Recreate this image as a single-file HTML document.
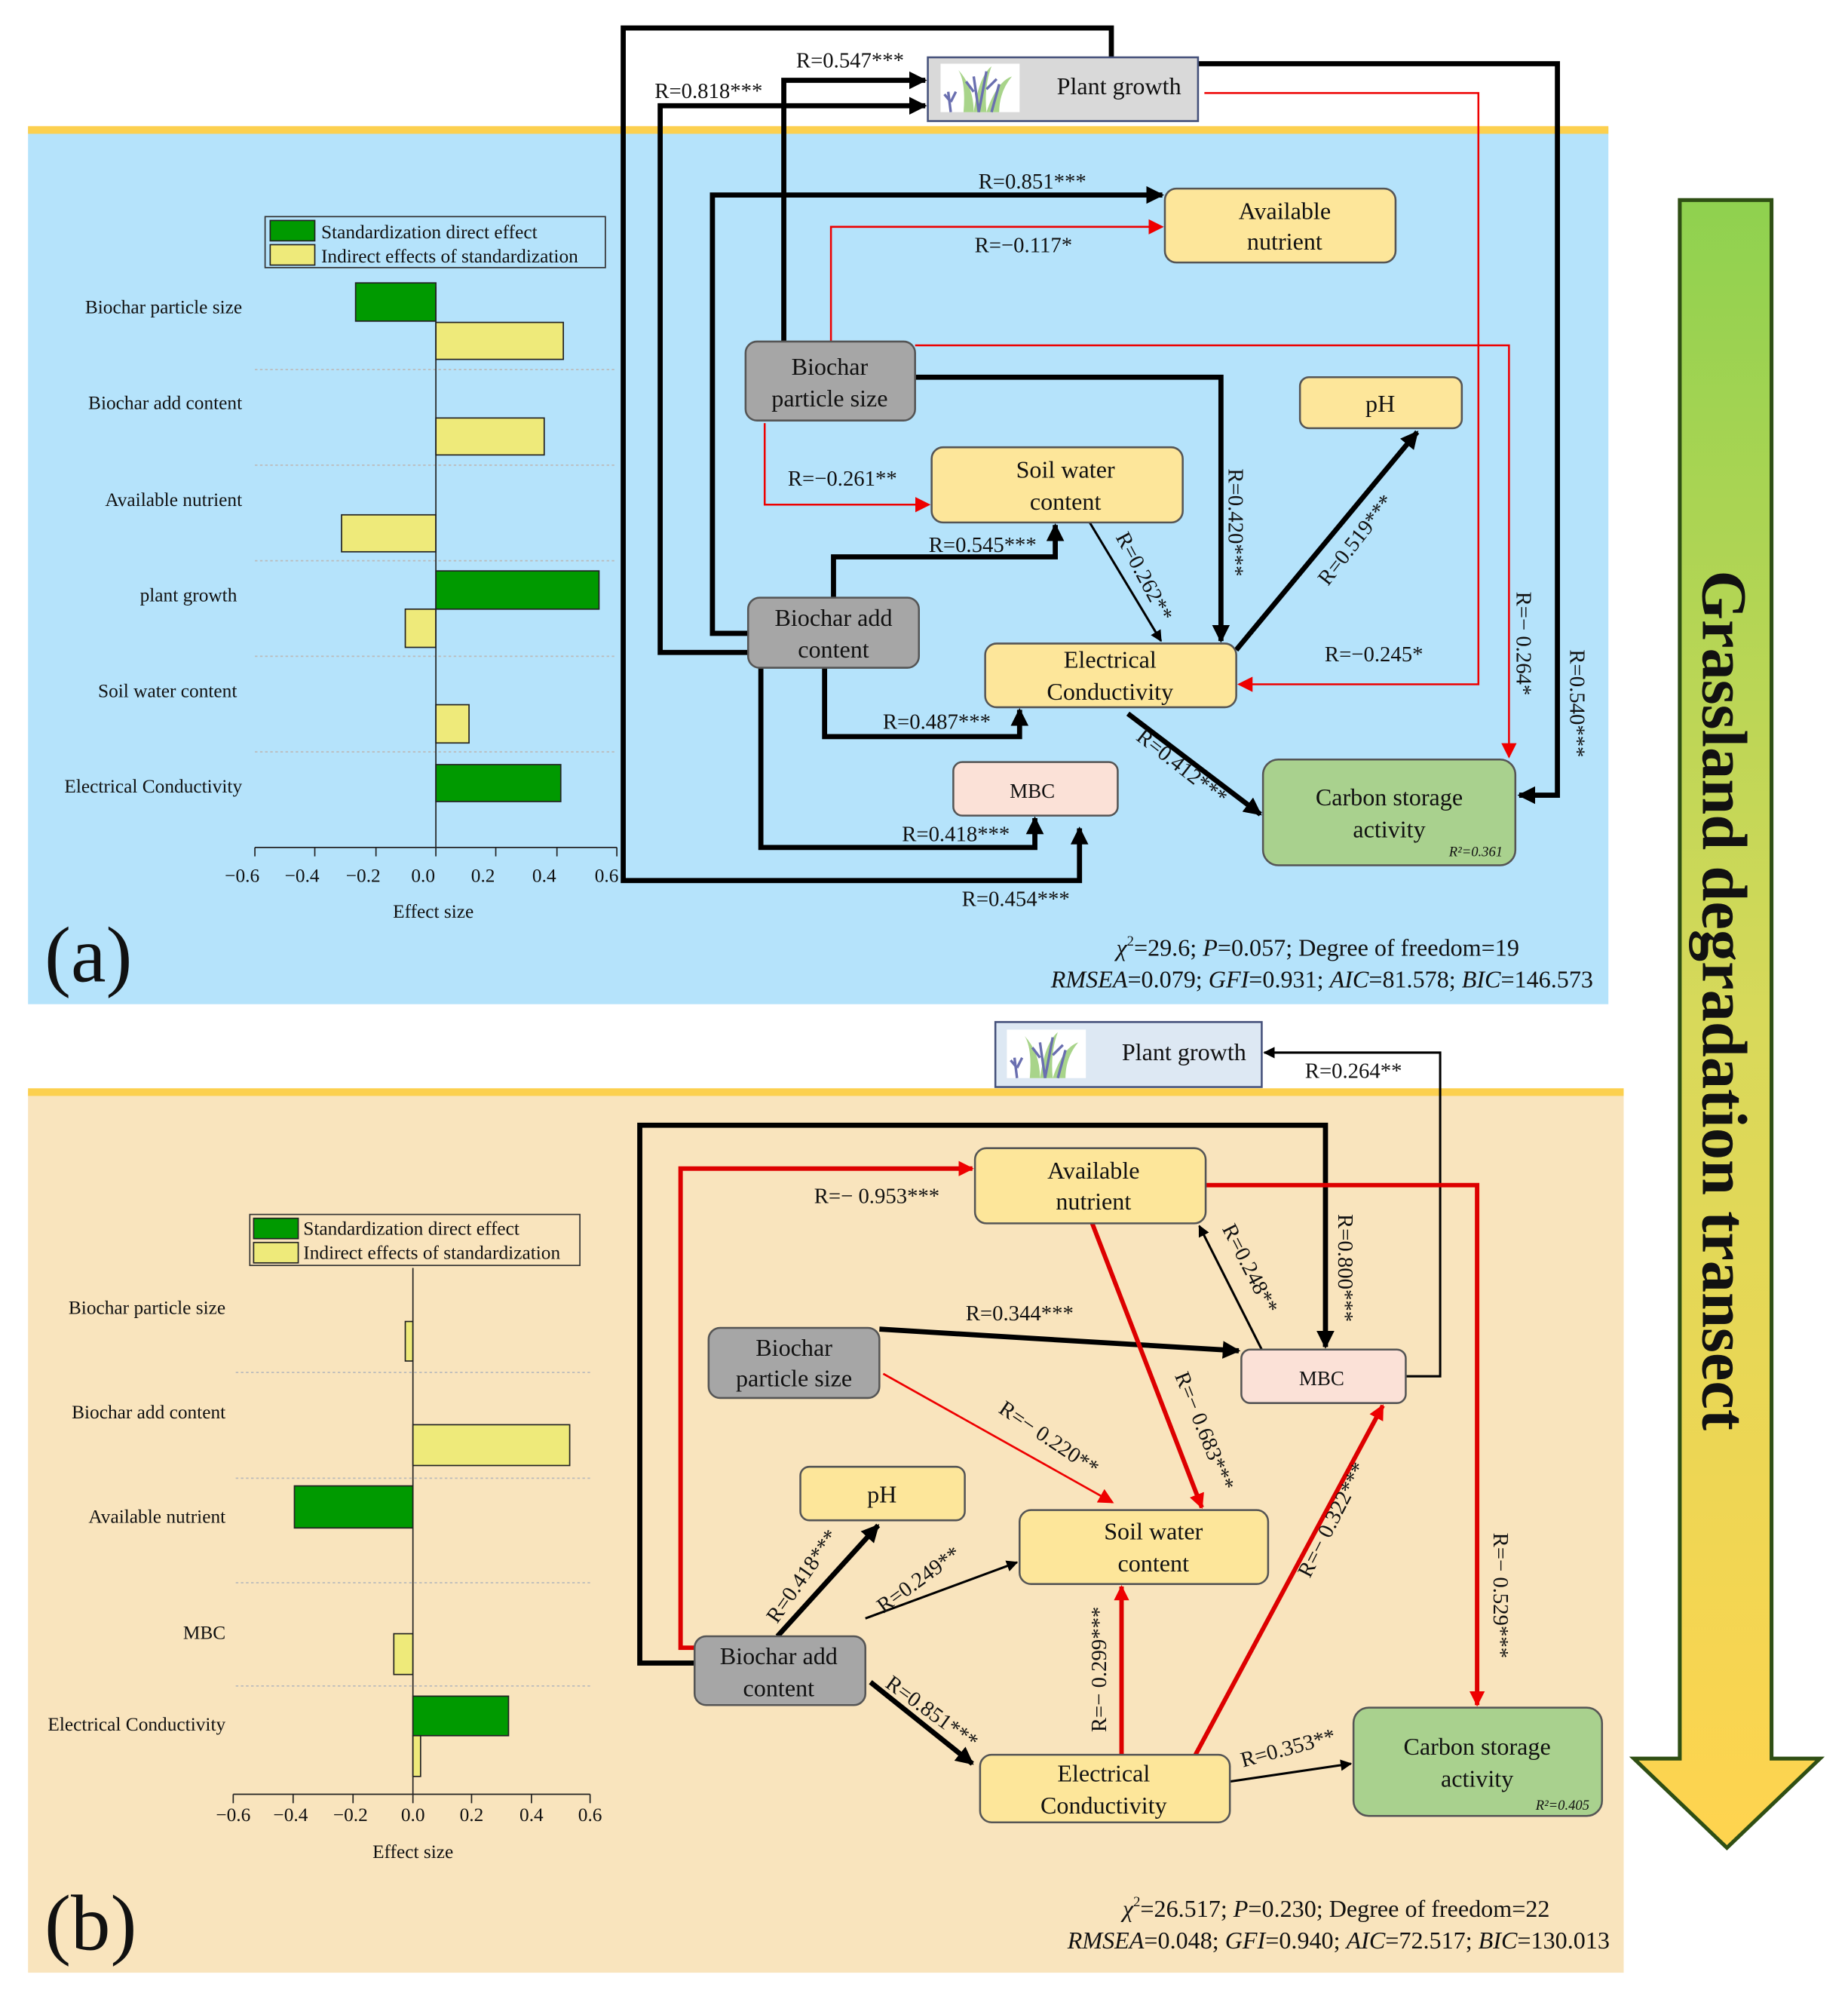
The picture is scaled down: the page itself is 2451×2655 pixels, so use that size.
<!DOCTYPE html>
<html><head><meta charset="utf-8"><style>
html,body{margin:0;padding:0;background:#fff}
svg{display:block}
svg text{font-family:"Liberation Serif",serif;fill:#111}
</style></head><body>
<svg width="2451" height="2655" viewBox="0 0 1450 1571" preserveAspectRatio="none" xmlns="http://www.w3.org/2000/svg" font-family="Liberation Serif, serif">
<defs>
<marker id="ab" viewBox="0 0 10 10" refX="9" refY="5" markerWidth="14" markerHeight="14" markerUnits="userSpaceOnUse" orient="auto"><path d="M0,0L10,5L0,10z" fill="#000"/></marker>
<marker id="ar" viewBox="0 0 10 10" refX="9" refY="5" markerWidth="12" markerHeight="12" markerUnits="userSpaceOnUse" orient="auto"><path d="M0,0L10,5L0,10z" fill="#e00"/></marker>
<marker id="as" viewBox="0 0 10 10" refX="9" refY="5" markerWidth="9" markerHeight="9" markerUnits="userSpaceOnUse" orient="auto"><path d="M0,0L10,5L0,10z" fill="#000"/></marker>
<linearGradient id="gr" x1="0" y1="0" x2="0" y2="1"><stop offset="0" stop-color="#8fd14f"/><stop offset="0.5" stop-color="#d8d95a"/><stop offset="1" stop-color="#ffd44f"/></linearGradient>
<g id="grass"><rect x="0" y="0" width="62" height="38" fill="#fff"/>
<path d="M18,38 Q20,15 14,5 Q26,18 26,38 M26,38 Q30,10 40,2 Q34,18 36,38 M36,38 Q44,14 56,10 Q46,22 46,38" fill="#a8d48a"/>
<path d="M8,38 L6,22 M8,30 L3,24 M8,30 L12,22 M30,38 L26,10 M30,38 L36,6 M36,20 L44,12 M26,22 L20,14 M40,38 L46,16" stroke="#6a6fb0" stroke-width="2" fill="none"/></g>
</defs>

<rect x="22" y="100" width="1240" height="688" fill="#b5e3fb"/>
<rect x="22" y="99" width="1240" height="6" fill="#fcd04f"/>
<rect x="22" y="856" width="1252" height="692" fill="#f9e4bd"/>
<rect x="22" y="854" width="1252" height="6" fill="#fcd04f"/>

<path d="M1318,157 H1390 V1380 H1428 L1355,1450 L1282,1380 H1318 Z" fill="url(#gr)" stroke="#2f4f14" stroke-width="3"/>
<text transform="translate(1336,785) rotate(90)" text-anchor="middle" font-size="50" font-weight="bold">Grassland degradation transect</text>

<g font-size="14">
<rect x="208" y="170" width="267" height="40" fill="#b5e3fb" stroke="#333"/>
<rect x="212" y="173" width="35" height="16" fill="#009a00" stroke="#222"/>
<rect x="212" y="192" width="35" height="16" fill="#eeea7a" stroke="#222"/>
<text x="252" y="187" font-size="15">Standardization direct effect</text>
<text x="252" y="206" font-size="15">Indirect effects of standardization</text>
<g stroke="#bbb" stroke-dasharray="2,2"><line x1="200" y1="290" x2="484" y2="290"/><line x1="200" y1="365" x2="484" y2="365"/><line x1="200" y1="440" x2="484" y2="440"/><line x1="200" y1="515" x2="484" y2="515"/><line x1="200" y1="590" x2="484" y2="590"/></g>
<g stroke="#222"><rect x="279" y="222" width="63" height="30" fill="#009a00"/><rect x="342" y="253" width="100" height="29" fill="#eeea7a"/>
<rect x="342" y="328" width="85" height="29" fill="#eeea7a"/><rect x="268" y="404" width="74" height="29" fill="#eeea7a"/>
<rect x="342" y="448" width="128" height="30" fill="#009a00"/><rect x="318" y="478" width="24" height="30" fill="#eeea7a"/>
<rect x="342" y="553" width="26" height="30" fill="#eeea7a"/><rect x="342" y="600" width="98" height="29" fill="#009a00"/></g>
<line x1="342" y1="225" x2="342" y2="665" stroke="#222"/>
<line x1="200" y1="665" x2="484" y2="665" stroke="#222"/>
<g stroke="#222"><line x1="200" y1="665" x2="200" y2="672"/><line x1="247" y1="665" x2="247" y2="672"/><line x1="295" y1="665" x2="295" y2="672"/><line x1="342" y1="665" x2="342" y2="672"/><line x1="389" y1="665" x2="389" y2="672"/><line x1="437" y1="665" x2="437" y2="672"/><line x1="484" y1="665" x2="484" y2="672"/></g>
<g text-anchor="middle" font-size="15"><text x="190" y="692">−0.6</text><text x="237" y="692">−0.4</text><text x="285" y="692">−0.2</text><text x="332" y="692">0.0</text><text x="379" y="692">0.2</text><text x="427" y="692">0.4</text><text x="476" y="692">0.6</text>
<text x="340" y="720">Effect size</text></g>
<g text-anchor="end" font-size="15"><text x="190" y="246">Biochar particle size</text><text x="190" y="321">Biochar add content</text><text x="190" y="397">Available nutrient</text><text x="186" y="472">plant growth</text><text x="186" y="547">Soil water content</text><text x="190" y="622">Electrical Conductivity</text></g>
</g>
<text x="35" y="770" font-size="62">(a)</text>
<g font-size="19" text-anchor="end"><text x="1192" y="750"><tspan font-style="italic">χ</tspan><tspan font-size="11" dy="-8">2</tspan><tspan dy="8">=29.6; </tspan><tspan font-style="italic">P</tspan>=0.057; Degree of freedom=19</text>
<text x="1250" y="775"><tspan font-style="italic">RMSEA</tspan>=0.079; <tspan font-style="italic">GFI</tspan>=0.931; <tspan font-style="italic">AIC</tspan>=81.578; <tspan font-style="italic">BIC</tspan>=146.573</text></g>

<g fill="none" stroke="#000" stroke-width="4">
<path d="M872,45 V22 H489 V691 H847 V650" marker-end="url(#ab)"/>
<path d="M615,268 V63 H726" marker-end="url(#ab)"/>
<path d="M587,512 H518 V83 H726" marker-end="url(#ab)"/>
<path d="M587,497 H559 V153 H912" marker-end="url(#ab)"/>
<path d="M940,50 H1222 V624 H1192" marker-end="url(#ab)"/>
<path d="M718,296 H958 V503" marker-end="url(#ab)"/>
<path d="M654,469 V437 H828 V412" marker-end="url(#ab)"/>
<path d="M970,510 L1112,339" marker-end="url(#ab)"/>
<path d="M647,524 V578 H800 V557" marker-end="url(#ab)"/>
<path d="M597,524 V665 H812 V642" marker-end="url(#ab)"/>
<path d="M885,560 L989,639" marker-end="url(#ab)"/>
</g>
<path d="M855,410 L911,503" fill="none" stroke="#000" stroke-width="1.8" marker-end="url(#as)"/>
<g fill="none" stroke="#e00" stroke-width="1.5">
<path d="M652,268 V178 H912" marker-end="url(#ar)"/>
<path d="M718,271 H1184 V594" marker-end="url(#ar)"/>
<path d="M945,73 H1160 V537 H972" marker-end="url(#ar)"/>
<path d="M600,332 V396 H729" marker-end="url(#ar)"/>
</g>

<g stroke="#555" stroke-width="1.5">
<rect x="728" y="45" width="212" height="50" fill="#d9d9d9" stroke="#44507a"/>
<rect x="914" y="148" width="181" height="58" rx="9" fill="#fde69a"/>
<rect x="585" y="268" width="133" height="62" rx="9" fill="#a6a6a6"/>
<rect x="1020" y="296" width="127" height="40" rx="7" fill="#fde69a"/>
<rect x="731" y="351" width="197" height="59" rx="9" fill="#fde69a"/>
<rect x="587" y="469" width="134" height="55" rx="9" fill="#a6a6a6"/>
<rect x="773" y="505" width="197" height="50" rx="9" fill="#fde69a"/>
<rect x="748" y="598" width="129" height="42" rx="7" fill="#fbe1d7"/>
<rect x="991" y="596" width="198" height="83" rx="12" fill="#a9d18e"/>
</g>
<use href="#grass" x="738" y="50"/>
<g font-size="19" text-anchor="middle">
<text x="878" y="74">Plant growth</text>
<text x="1008" y="172">Available</text><text x="1008" y="196">nutrient</text>
<text x="651" y="294">Biochar</text><text x="651" y="319">particle size</text>
<text x="1083" y="323">pH</text>
<text x="836" y="375">Soil water</text><text x="836" y="400">content</text>
<text x="654" y="491">Biochar add</text><text x="654" y="516">content</text>
<text x="871" y="524">Electrical</text><text x="871" y="549">Conductivity</text>
<text x="810" y="626" font-size="16">MBC</text>
<text x="1090" y="632">Carbon storage</text><text x="1090" y="657">activity</text>
<text x="1158" y="672" font-size="11" font-style="italic">R²=0.361</text>
</g>
<g font-size="17" text-anchor="middle">
<text x="667" y="53">R=0.547***</text>
<text x="556" y="77">R=0.818***</text>
<text x="810" y="148">R=0.851***</text>
<text x="803" y="198">R=−0.117*</text>
<text x="661" y="381">R=−0.261**</text>
<text x="771" y="433">R=0.545***</text>
<text x="735" y="572">R=0.487***</text>
<text x="750" y="660">R=0.418***</text>
<text x="797" y="711">R=0.454***</text>
<text x="1078" y="519">R=−0.245*</text>
<text transform="translate(964,410) rotate(90)">R=0.420***</text>
<text transform="translate(1190,505) rotate(90)">R=− 0.264*</text>
<text transform="translate(1232,552) rotate(90)">R=0.540***</text>
<text transform="translate(893,455) rotate(62)">R=0.262**</text>
<text transform="translate(1068,427) rotate(-52)">R=0.519***</text>
<text transform="translate(924,606) rotate(38)">R=0.412***</text>
</g>

<g>
<rect x="196" y="953" width="259" height="40" fill="#f9e4bd" stroke="#333"/>
<rect x="199" y="956" width="35" height="16" fill="#009a00" stroke="#222"/>
<rect x="199" y="975" width="35" height="16" fill="#eeea7a" stroke="#222"/>
<text x="238" y="969" font-size="15">Standardization direct effect</text>
<text x="238" y="988" font-size="15">Indirect effects of standardization</text>
<g stroke="#bbb" stroke-dasharray="2,2"><line x1="185" y1="1077" x2="463" y2="1077"/><line x1="185" y1="1160" x2="463" y2="1160"/><line x1="185" y1="1242" x2="463" y2="1242"/><line x1="185" y1="1323" x2="463" y2="1323"/></g>
<g stroke="#222"><rect x="318" y="1037" width="6" height="31" fill="#eeea7a"/><rect x="324" y="1118" width="123" height="32" fill="#eeea7a"/>
<rect x="231" y="1166" width="93" height="33" fill="#009a00"/><rect x="309" y="1282" width="15" height="32" fill="#eeea7a"/>
<rect x="324" y="1331" width="75" height="31" fill="#009a00"/><rect x="324" y="1362" width="6" height="32" fill="#eeea7a"/></g>
<line x1="324" y1="995" x2="324" y2="1408" stroke="#222"/>
<line x1="183" y1="1408" x2="463" y2="1408" stroke="#222"/>
<g stroke="#222"><line x1="183" y1="1408" x2="183" y2="1415"/><line x1="230" y1="1408" x2="230" y2="1415"/><line x1="277" y1="1408" x2="277" y2="1415"/><line x1="324" y1="1408" x2="324" y2="1415"/><line x1="370" y1="1408" x2="370" y2="1415"/><line x1="417" y1="1408" x2="417" y2="1415"/><line x1="463" y1="1408" x2="463" y2="1415"/></g>
<g text-anchor="middle" font-size="15"><text x="183" y="1429">−0.6</text><text x="228" y="1429">−0.4</text><text x="275" y="1429">−0.2</text><text x="324" y="1429">0.0</text><text x="370" y="1429">0.2</text><text x="417" y="1429">0.4</text><text x="463" y="1429">0.6</text>
<text x="324" y="1458">Effect size</text></g>
<g text-anchor="end" font-size="15"><text x="177" y="1031">Biochar particle size</text><text x="177" y="1113">Biochar add content</text><text x="177" y="1195">Available nutrient</text><text x="177" y="1286">MBC</text><text x="177" y="1358">Electrical Conductivity</text></g>
</g>
<text x="35" y="1530" font-size="62">(b)</text>
<g font-size="19" text-anchor="end"><text x="1216" y="1504"><tspan font-style="italic">χ</tspan><tspan font-size="11" dy="-8">2</tspan><tspan dy="8">=26.517; </tspan><tspan font-style="italic">P</tspan>=0.230; Degree of freedom=22</text>
<text x="1263" y="1529"><tspan font-style="italic">RMSEA</tspan>=0.048; <tspan font-style="italic">GFI</tspan>=0.940; <tspan font-style="italic">AIC</tspan>=72.517; <tspan font-style="italic">BIC</tspan>=130.013</text></g>

<g fill="none" stroke="#000" stroke-width="4">
<path d="M545,1305 H502 V883 H1040 V1057" marker-end="url(#ab)"/>
<path d="M690,1043 L972,1060" marker-end="url(#ab)"/>
<path d="M610,1284 L689,1197" marker-end="url(#ab)"/>
<path d="M683,1320 L763,1384" marker-end="url(#ab)"/>
</g>
<g fill="none" stroke="#000" stroke-width="1.8">
<path d="M1103,1080 H1130 V826 H992" marker-end="url(#as)"/>
<path d="M990,1059 L941,962" marker-end="url(#as)"/>
<path d="M679,1270 L798,1226" marker-end="url(#as)"/>
<path d="M965,1398 L1060,1384" marker-end="url(#as)"/>
</g>
<g fill="none" stroke="#d00" stroke-width="3.5">
<path d="M545,1293 H534 V917 H763" marker-end="url(#ar)"/>
<path d="M946,930 H1159 V1338" marker-end="url(#ar)"/>
<path d="M857,960 L943,1183" marker-end="url(#ar)"/>
<path d="M880,1377 V1245" marker-end="url(#ar)"/>
<path d="M938,1377 L1085,1103" marker-end="url(#ar)"/>
</g>
<path d="M693,1078 L873,1179" fill="none" stroke="#e00" stroke-width="1.6" marker-end="url(#ar)"/>

<g stroke="#555" stroke-width="1.5">
<rect x="781" y="802" width="209" height="51" fill="#dde8f3" stroke="#44507a"/>
<rect x="765" y="901" width="181" height="59" rx="9" fill="#fde69a"/>
<rect x="556" y="1042" width="134" height="55" rx="9" fill="#a6a6a6"/>
<rect x="974" y="1059" width="129" height="42" rx="7" fill="#fbe1d7"/>
<rect x="628" y="1151" width="129" height="42" rx="7" fill="#fde69a"/>
<rect x="800" y="1185" width="195" height="58" rx="9" fill="#fde69a"/>
<rect x="545" y="1284" width="134" height="54" rx="9" fill="#a6a6a6"/>
<rect x="769" y="1377" width="196" height="53" rx="9" fill="#fde69a"/>
<rect x="1062" y="1340" width="195" height="85" rx="12" fill="#a9d18e"/>
</g>
<use href="#grass" x="790" y="808"/>
<g font-size="19" text-anchor="middle">
<text x="929" y="832">Plant growth</text>
<text x="858" y="925">Available</text><text x="858" y="949">nutrient</text>
<text x="623" y="1064">Biochar</text><text x="623" y="1088">particle size</text>
<text x="1037" y="1087" font-size="16">MBC</text>
<text x="692" y="1179">pH</text>
<text x="905" y="1208">Soil water</text><text x="905" y="1233">content</text>
<text x="611" y="1306">Biochar add</text><text x="611" y="1331">content</text>
<text x="866" y="1398">Electrical</text><text x="866" y="1423">Conductivity</text>
<text x="1159" y="1377">Carbon storage</text><text x="1159" y="1402">activity</text>
<text x="1226" y="1420" font-size="11" font-style="italic">R²=0.405</text>
</g>
<g font-size="17" text-anchor="middle">
<text x="1062" y="846">R=0.264**</text>
<text x="688" y="944">R=− 0.953***</text>
<text x="800" y="1036">R=0.344***</text>
<text transform="translate(1050,995) rotate(90)">R=0.800***</text>
<text transform="translate(1172,1252) rotate(90)">R=− 0.529***</text>
<text transform="translate(976,998) rotate(63)">R=0.248**</text>
<text transform="translate(940,1125) rotate(68)">R=− 0.683***</text>
<text transform="translate(820,1133) rotate(34)">R=− 0.220**</text>
<text transform="translate(634,1240) rotate(-55)">R=0.418***</text>
<text transform="translate(724,1244) rotate(-36)">R=0.249**</text>
<text transform="translate(728,1348) rotate(36)">R=0.851***</text>
<text transform="translate(868,1310) rotate(-90)">R=− 0.299***</text>
<text transform="translate(1050,1195) rotate(-63)">R=− 0.322***</text>
<text transform="translate(1012,1377) rotate(-15)">R=0.353**</text>
</g>
</svg>
</body></html>
